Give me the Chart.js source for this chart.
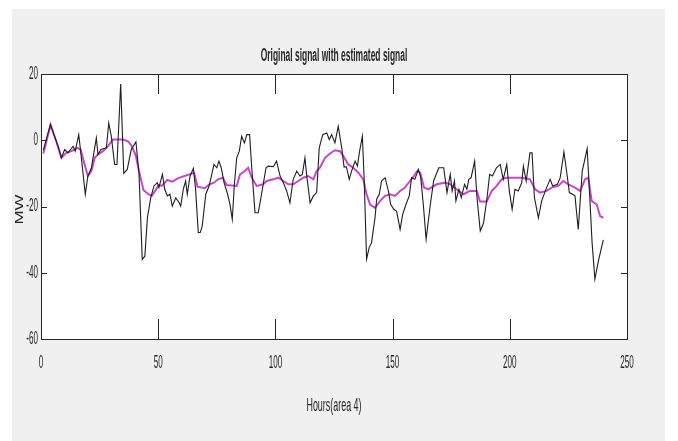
<!DOCTYPE html>
<html lang="en">
<head>
  <meta charset="UTF-8" />
  <title>Original signal with estimated signal</title>
  <script src="https://cdn.jsdelivr.net/npm/chart.js"></script>
  <style>
    html, body { margin: 0; padding: 0; background: #fff; }
    #chart { display: block; }
  </style>
</head>
<body>
  <canvas id="chart" width="678" height="441"></canvas>

  <script>
    // original signal (black)
    const origHours = [1, 4, 7.3, 8.7, 10.1, 11.5, 13.7, 14.6, 16.1, 16.9, 18.9, 20, 21.5, 23.6, 24.3, 25.6, 27.9, 28.9, 30, 31.4,
      32.4, 34, 35.3, 36.8, 38.5, 40.5, 41.8, 43.2, 44.3, 45.4, 46.8, 48.2, 49.6, 50.3, 51.8, 52.8, 53.9, 55, 56, 57.5,
      58.9, 59.6, 60.7, 61.7, 62.4, 63.6, 65, 65.9, 67.1, 68, 68.8, 70.3, 71.7, 72.7, 73.8, 75, 75.9, 76.9, 78.1, 79.5,
      80.6, 81.6, 82.5, 83.5, 84.6, 85.6, 86.8, 87.8, 89, 89.9, 91.3, 92.7, 94.8, 96, 97, 99.1, 100.5, 102, 103.4, 104.8,
      106.2, 107.6, 109.1, 110.5, 111.5, 112.6, 113.3, 114.8, 116.2, 117.6, 118.7, 120.2, 121.9, 123, 124, 125.4, 126.8, 128.3, 129.3, 130.3,
      131.5, 132.5, 134, 135, 135.8, 137.1, 137.9, 138.9, 140, 141, 142.5, 143.2, 144.3, 145.3, 146.8, 148.2, 149.2, 150.6, 151.7, 153.2,
      154.3, 155.7, 157.1, 158.1, 159.5, 161, 162, 163.1, 164.3, 166.1, 167.5, 169.7, 171.8, 173.2, 174.6, 175.4, 176.4, 177, 178.3, 179.3,
      180.7, 181.7, 182.5, 183.5, 185, 186, 187.4, 188.8, 190.3, 191.4, 192.6, 194.3, 195.9, 197.2, 198.7, 199.8, 201, 202.2, 203.6, 205.1,
      205.8, 207, 208.6, 209.5, 210.5, 212.2, 213.6, 215.7, 217.2, 218.3, 220.3, 221.5, 223.1, 224.5, 225.4, 226.8, 227.8, 229.2, 230.9, 233,
      234.2, 235.1, 236.3, 237.8, 239.9];
    const origMW = [-3, 4.7, -1.8, -5.3, -2.8, -3.8, -1.8, -3.3, 1.7, -3.3, -16.3, -10.8, -8.3, 0.7, -4.3, -2.8, -2.3, 5.2, 1.2, -7.3,
      -7.3, 17, -10, -8.8, -2.8, -0.5, -10, -36, -35, -23.4, -17.4, -13.8, -12.8, -14.3, -10.3, -14.8, -16.8, -16.3, -19.9, -17.4,
      -18.8, -19.9, -14.8, -12.3, -16.3, -10.8, -8.5, -14.3, -27.9, -27.8, -25.8, -16.3, -13.8, -10.8, -7.3, -8.3, -6.3, -8.3, -12.8, -16,
      -19.3, -23.9, -13.3, -5.3, -3.3, 1.2, -0.8, 1.7, 1.7, -8.3, -21.9, -21.9, -13.3, -8.3, -7.8, -8, -6.3, -10.8, -12.8, -15.3,
      -18.9, -11.8, -9.3, -10.8, -10.3, -5.3, -10.3, -18.9, -16.8, -15.8, -2.3, 1.7, 2.2, 0.2, 1.7, -0.8, 4.2, -2.3, -8.1, -8,
      -11.8, -9.3, -6.3, -7.8, -3.8, 1.2, -12.3, -35.9, -32.4, -31, -23.4, -17.8, -16.3, -12.3, -11.3, -15.3, -19.4, -20.9, -21.4, -26.9,
      -22.4, -19.4, -16.8, -11.3, -11.8, -8.8, -11.3, -19.4, -29.9, -19.4, -12.3, -8.3, -8.3, -15.8, -10.3, -15.3, -12.3, -18.3, -14.8, -17.3,
      -13.3, -14.8, -11.8, -11.3, -6.3, -17.3, -27.4, -25, -17.3, -10.3, -10.8, -8.3, -7.3, -11.8, -7.3, -15.3, -20.9, -14.8, -15.3, -12.8,
      -7.8, -12.3, -3.8, -3.8, -17.3, -23.4, -18.3, -14.3, -11.8, -13.8, -13.3, -11.3, -3.5, -10.8, -15.8, -16.3, -16.8, -26.9, -9.3, -2.5,
      -18.3, -30.9, -41.9, -36.4, -30.1];

    // estimated signal (magenta)
    const estHours = [1, 4.1, 6.5, 8.7, 10.8, 13, 15.5, 16.9, 18.6, 20, 21.5, 22.9, 24.3, 26.5, 28.6, 30.7, 32.9, 35, 37.1, 38.5,
      40.4, 41.8, 43.7, 45.8, 47.2, 48.2, 50.3, 51.5, 53.9, 56, 58.4, 60.3, 63.3, 65.3, 66.8, 69.8, 71.9, 73.8, 75.5, 77.6,
      79.2, 83.5, 84.9, 87, 88.4, 89.9, 92, 94.8, 96.3, 99.1, 101.2, 103.4, 105.5, 107.6, 109.8, 111.9, 114, 116.2, 117.6, 119,
      121.2, 123.3, 125.4, 127.6, 129, 131.1, 133.2, 135.4, 137.5, 138.9, 140.4, 142.5, 144.7, 146.8, 148.9, 151, 153.2, 155.3, 157.4, 159.1,
      160.5, 161.8, 163.4, 165.2, 168.8, 172.4, 174.6, 177.3, 180.2, 183, 185.9, 187.3, 190.2, 192.3, 194.4, 196.5, 198.7, 201.5, 205.1, 208.6,
      210.8, 212.9, 215.7, 217.9, 220.7, 222.8, 225, 227.8, 230, 232.1, 233.5, 234.9, 237.1, 238.5, 239.9];
    const estMW = [-4, 4.7, -0.3, -5.3, -3.8, -3.3, -2.3, -2.8, -7.3, -10.8, -9.3, -5.3, -4.3, -3.3, -1.8, 0.2, 0.2, 0.2, -0.3, -1.5,
      -4.5, -9.3, -15, -16.3, -16.8, -15.8, -13.5, -13.8, -12, -12.5, -11.5, -11, -10.3, -9.8, -14, -14.5, -13.3, -12.8, -11.8, -11.3,
      -13.5, -13.8, -10.3, -9.3, -8.3, -11.3, -13.8, -13.3, -12.3, -11.8, -11.3, -12.3, -13.3, -13.3, -12.3, -11.3, -10.8, -11.8, -9.3, -8.3,
      -5.3, -4, -3, -3.3, -4.8, -7.3, -8.3, -9.8, -11.8, -16.3, -19.4, -20.4, -18.3, -16.8, -16.3, -16.8, -15.3, -14.3, -12.3, -10.8,
      -9.3, -9.8, -14.3, -14.8, -13.3, -12.8, -13.3, -14.8, -16.3, -15.3, -15.3, -18.5, -18.5, -15.3, -13.8, -11.8, -11.3, -11.3, -11.3, -11.8,
      -14.8, -15.8, -15.3, -14.3, -13.8, -12.3, -13.3, -14.3, -15.3, -11.8, -11.3, -18.3, -19.4, -22.9, -23.4];

    const xTicks = [0, 50, 100, 150, 200, 250];
    const yTicks = [20, 0, -20, -40, -60];

    const titleText = 'Original signal with estimated signal';
    const xLabel = 'Hours(area 4)';
    const yLabel = 'MW';

    const pts = (xs, ys) => xs.map((x, i) => ({ x: x, y: ys[i] }));

    // narrow text, like the squeezed figure
    function squeezed(ctx, text, x, y, font, align, sx, rotate) {
      ctx.save();
      ctx.translate(x, y);
      if (rotate) {
        ctx.rotate(-Math.PI / 2);
        ctx.scale(1, sx);
      } else {
        ctx.scale(sx, 1);
      }
      ctx.font = font;
      ctx.textAlign = align;
      ctx.textBaseline = 'middle';
      ctx.fillStyle = '#262626';
      ctx.fillText(text, 0, 0);
      ctx.restore();
    }

    const matlabLook = {
      id: 'matlabLook',
      beforeDraw(chart) {
        const ctx = chart.ctx;
        const a = chart.chartArea;
        ctx.save();
        ctx.fillStyle = '#ffffff';
        ctx.fillRect(0, 0, chart.width, chart.height);
        ctx.fillStyle = '#f0f0f0';
        ctx.fillRect(12, 9, 653, 432);
        ctx.fillStyle = '#ffffff';
        ctx.fillRect(a.left, a.top, a.right - a.left, a.bottom - a.top);
        ctx.restore();
      },
      afterDraw(chart) {
        const ctx = chart.ctx;
        const a = chart.chartArea;
        const xs = chart.scales.x;
        const ys = chart.scales.y;
        ctx.save();
        ctx.strokeStyle = '#262626';
        ctx.lineWidth = 1;
        ctx.strokeRect(Math.round(a.left) + 0.5, Math.round(a.top) + 0.5,
          Math.round(a.right - a.left), Math.round(a.bottom - a.top));

        ctx.beginPath();
        xTicks.forEach(v => {
          const px = Math.round(xs.getPixelForValue(v)) + 0.5;
          ctx.moveTo(px, a.bottom); ctx.lineTo(px, a.bottom - 20);
          ctx.moveTo(px, a.top); ctx.lineTo(px, a.top + 20);
        });
        yTicks.forEach(v => {
          const py = Math.round(ys.getPixelForValue(v)) + 0.5;
          ctx.moveTo(a.left, py); ctx.lineTo(a.left + 6, py);
          ctx.moveTo(a.right, py); ctx.lineTo(a.right - 6, py);
        });
        ctx.stroke();
        ctx.restore();

        xTicks.forEach(v => {
          squeezed(ctx, String(v), xs.getPixelForValue(v), a.bottom + 24, '18px "Liberation Sans"', 'center', 0.45);
        });
        yTicks.forEach(v => {
          squeezed(ctx, String(v), a.left - 3, ys.getPixelForValue(v), '18px "Liberation Sans"', 'right', 0.45);
        });
        squeezed(ctx, titleText, (a.left + a.right) / 2, 56, 'bold 18px "Liberation Sans"', 'center', 0.47);
        squeezed(ctx, xLabel, (a.left + a.right) / 2, 406, '19px "Liberation Sans"', 'center', 0.47);
        squeezed(ctx, yLabel, 20, (a.top + a.bottom) / 2 + 3, '17px "Liberation Sans"', 'center', 0.6, true);
      }
    };

    new Chart(document.getElementById('chart').getContext('2d'), {
      type: 'line',
      data: {
        datasets: [
          {
            label: 'Estimated',
            data: pts(estHours, estMW),
            borderColor: '#cc44cc',
            borderWidth: 2,
            pointRadius: 0,
            tension: 0,
            order: 2
          },
          {
            label: 'Original',
            data: pts(origHours, origMW),
            borderColor: '#1e1e1e',
            borderWidth: 1.1,
            pointRadius: 0,
            tension: 0,
            order: 1
          }
        ]
      },
      options: {
        responsive: false,
        animation: false,
        events: [],
        layout: { padding: { left: 41, top: 74, right: 51, bottom: 102 } },
        plugins: { legend: { display: false }, tooltip: { enabled: false }, title: { display: false } },
        scales: {
          x: { type: 'linear', min: 0, max: 250, display: false },
          y: { type: 'linear', min: -60, max: 20, display: false }
        }
      },
      plugins: [matlabLook]
    });
  </script>
</body>
</html>
